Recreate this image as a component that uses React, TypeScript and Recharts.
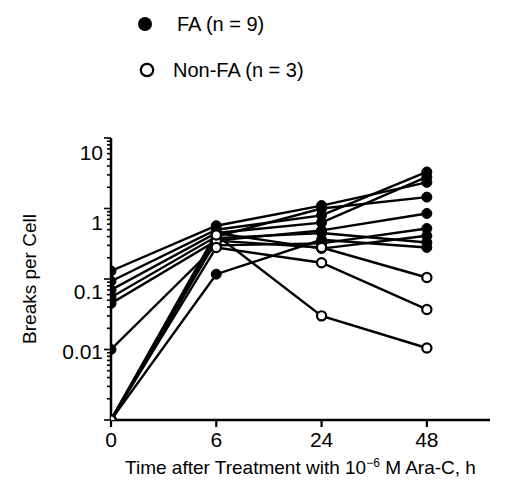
import React from 'react';
import { LineChart, Line, XAxis, YAxis, Label } from 'recharts';

// Time points (h after treatment)
const timeLabels = ['0', '6', '24', '48'];

// FA patients (n = 9); 0.001 = on the baseline (no breaks detected)
const fa1 = [0.13, 0.57, 1.1, 2.35];
const fa2 = [0.093, 0.5, 0.8, 3.3];
const fa3 = [0.07, 0.45, 0.63, 2.8];
const fa4 = [0.055, 0.4, 1.0, 1.45];
const fa5 = [0.045, 0.35, 0.49, 0.85];
const fa6 = [0.01, 0.3, 0.32, 0.52];
const fa7 = [0.001, 0.45, 0.27, 0.41];
const fa8 = [0.001, 0.38, 0.45, 0.33];
const fa9 = [0.001, 0.117, 0.36, 0.28];

// Non-FA controls (n = 3)
const nonFa1 = [0.001, 0.35, 0.28, 0.105];
const nonFa2 = [0.001, 0.28, 0.17, 0.037];
const nonFa3 = [0.001, 0.42, 0.03, 0.0105];

const faSeries = { fa1, fa2, fa3, fa4, fa5, fa6, fa7, fa8, fa9 };
const nonFaSeries = { nonFa1, nonFa2, nonFa3 };

// labelled y ticks and the vertical offset of their printed label (as in the original print)
const yLabels = [0.01, 0.1, 1, 10];
const yLabelShift = [2, 13, 14, 15];

const data = timeLabels.map((t, i) => {
  const row: Record<string, number> = { idx: i };
  Object.entries(faSeries).forEach(([k, arr]) => (row[k] = arr[i]));
  Object.entries(nonFaSeries).forEach(([k, arr]) => (row[k] = arr[i]));
  return row;
});

const yTicks: number[] = [];
for (let e = -3; e <= 0; e++) {
  for (let m = 1; m <= 9; m++) yTicks.push(parseFloat((m * Math.pow(10, e)).toPrecision(6)));
}
yTicks.push(10);

const FONT = '"Liberation Sans", Arial, Helvetica, sans-serif';

const YTick = (props: any) => {
  const { x, y, payload } = props;
  const v = payload.value as number;
  const lg = Math.log10(v);
  const major = Math.abs(lg - Math.round(lg)) < 1e-6;
  const li = yLabels.findIndex((l) => Math.abs(l - v) / l < 1e-6);
  return (
    <g>
      <line x1={x} x2={x - (major ? 7 : 4)} y1={y} y2={y} stroke="#000" strokeWidth={1.6} />
      {li >= 0 && (
        <text
          x={x - 8}
          y={y + yLabelShift[li]}
          dy="0.35em"
          textAnchor="end"
          fontSize={21}
          fontFamily={FONT}
          fill="#000"
        >
          {String(yLabels[li])}
        </text>
      )}
    </g>
  );
};

const YTitle = (props: any) => {
  const vb = props.viewBox;
  const cx = 21;
  const cy = vb.y + vb.height / 2;
  return (
    <text
      x={cx}
      y={cy}
      transform={`rotate(-90, ${cx}, ${cy})`}
      textAnchor="middle"
      dominantBaseline="central"
      fontSize={19}
      fontFamily={FONT}
      fill="#000"
    >
      Breaks per Cell
    </text>
  );
};

const XTitle = (props: any) => {
  const vb = props.viewBox;
  const cx = vb.x + vb.width / 2;
  return (
    <text x={cx} y={466} textAnchor="middle" fontSize={19} fontFamily={FONT} fill="#000">
      Time after Treatment with 10
      <tspan dy={-7} fontSize={12}>−6</tspan>
      <tspan dy={7}> M Ara-C, h</tspan>
    </text>
  );
};

export default function App() {
  return (
    <div style={{ position: 'relative', width: 498, height: 477, fontFamily: FONT }}>
      <div style={{ position: 'absolute', left: 0, top: 0, width: 320, height: 90 }}>
        <svg width={320} height={90} style={{ position: 'absolute', left: 0, top: 0 }}>
          <circle cx={137} cy={16} r={7} fill="#000" />
          <text x={169} y={16} dy="0.35em" fontSize={20} fontFamily={FONT} fill="#000">
            FA (n = 9)
          </text>
          <circle cx={139} cy={62} r={6.2} fill="#fff" stroke="#000" strokeWidth={2.2} />
          <text x={165} y={62} dy="0.35em" fontSize={20} fontFamily={FONT} fill="#000">
            Non-FA (n = 3)
          </text>
        </svg>
      </div>
      <LineChart
        width={498}
        height={477}
        data={data}
        margin={{ top: 130, right: 16, bottom: 0, left: 0 }}
      >
        <XAxis
          dataKey="idx"
          type="number"
          domain={[0, 3.6]}
          ticks={[0, 1, 2, 3]}
          tickFormatter={(v: number) => timeLabels[v] ?? ''}
          height={65}
          axisLine={{ stroke: '#000', strokeWidth: 2.5 }}
          tickLine={{ stroke: '#000', strokeWidth: 2.2 }}
          tickSize={7}
          tickMargin={5}
          tick={{ fill: '#000', fontSize: 21, fontFamily: FONT }}
          allowDataOverflow
        >
          <Label content={<XTitle />} />
        </XAxis>
        <YAxis
          scale="log"
          type="number"
          domain={[0.001, 10]}
          ticks={yTicks}
          interval={0}
          allowDataOverflow
          width={103}
          axisLine={{ stroke: '#000', strokeWidth: 2.5 }}
          tickLine={false}
          tickSize={0}
          tickMargin={0}
          tick={<YTick />}
        >
          <Label content={<YTitle />} />
        </YAxis>
        {Object.keys(faSeries).map((k) => (
          <Line
            key={k}
            dataKey={k}
            type="linear"
            stroke="#000"
            strokeWidth={2.4}
            dot={{ r: 5, fill: '#000', stroke: '#000', strokeWidth: 1 }}
            activeDot={false}
            isAnimationActive={false}
          />
        ))}
        {Object.keys(nonFaSeries).map((k) => (
          <Line
            key={k}
            dataKey={k}
            type="linear"
            stroke="#000"
            strokeWidth={2.4}
            dot={{ r: 4.6, fill: '#fff', stroke: '#000', strokeWidth: 2.2 }}
            activeDot={false}
            isAnimationActive={false}
          />
        ))}
      </LineChart>
    </div>
  );
}
